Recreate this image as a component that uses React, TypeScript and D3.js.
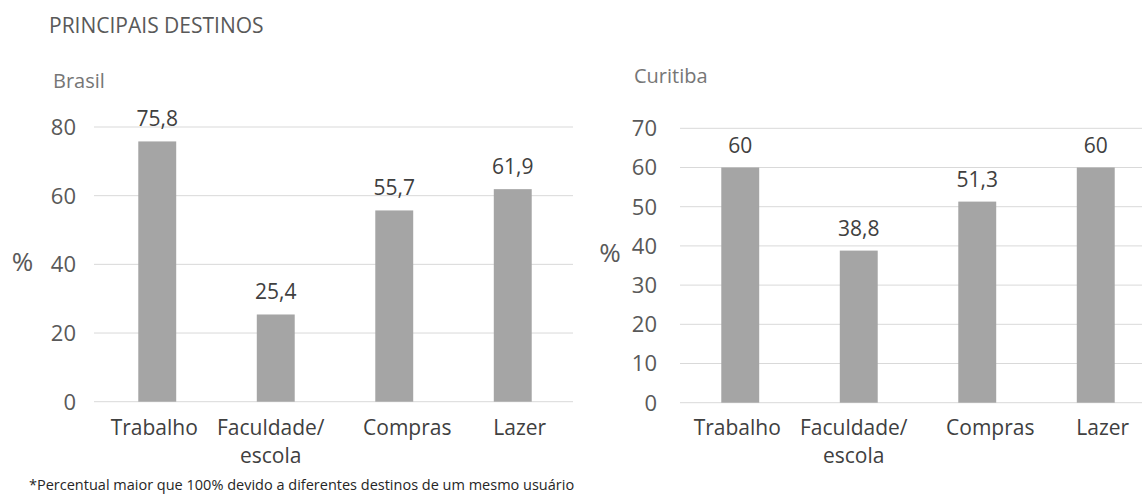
import React, { useEffect, useRef } from 'react'
import * as d3 from 'd3'

const categories = ['Trabalho', 'Faculdade/\nescola', 'Compras', 'Lazer']
const brasilValues = [75.8, 25.4, 55.7, 61.9]
const curitibaValues = [60, 38.8, 51.3, 60]
const brasilTicks = [0, 20, 40, 60, 80]
const curitibaTicks = [0, 10, 20, 30, 40, 50, 60, 70]

// category labels are not quite centred under the bars in the original
const labelNudge = [-3, -5, 13, 7]

const FONT = '"Open Sans", "Noto Sans", sans-serif'

interface IPanel {
  name: string
  values: number[]
  ticks: number[]
  max: number
  left: number
  right: number
  gridStart: number
  gridEnd: number
  top: number
  bottom: number
  tickX: number
  pctX: number
  pctY: number
  nameX: number
  nameY: number
}

const panels: IPanel[] = [
  {
    name: 'Brasil', values: brasilValues, ticks: brasilTicks, max: 80,
    left: 98, right: 572, gridStart: 94, gridEnd: 573, top: 127, bottom: 401.7,
    tickX: 76, pctX: 22.5, pctY: 262, nameX: 53, nameY: 88,
  },
  {
    name: 'Curitiba', values: curitibaValues, ticks: curitibaTicks, max: 70,
    left: 681, right: 1155, gridStart: 680, gridEnd: 1155, top: 128.3, bottom: 402.7,
    tickX: 657, pctX: 610, pctY: 253, nameX: 634, nameY: 83,
  },
]

const fmt = (v: number) => String(v).replace('.', ',')

const App = () => {
  const ref = useRef<SVGSVGElement>(null)

  useEffect(() => {
    const svg = d3.select(ref.current)
    svg.selectAll('*').remove()

    svg.append('text')
      .attr('x', 49).attr('y', 33)
      .attr('font-size', 21).attr('fill', '#595959')
      .text('PRINCIPAIS DESTINOS')

    panels.forEach((p) => {
      const x = d3.scaleBand().domain(categories).range([p.left, p.right])
        .paddingInner(0.68).paddingOuter(0.34)
      const y = d3.scaleLinear().domain([0, p.max]).range([p.bottom, p.top])
      const g = svg.append('g')

      g.append('text')
        .attr('x', p.nameX).attr('y', p.nameY)
        .attr('font-size', 20).attr('fill', '#767676')
        .text(p.name)

      g.append('g').selectAll('line').data(p.ticks).enter().append('line')
        .attr('x1', p.gridStart).attr('x2', p.gridEnd)
        .attr('y1', (d) => y(d)).attr('y2', (d) => y(d))
        .attr('stroke', '#d9d9d9').attr('stroke-width', 1)

      g.append('g').selectAll('text').data(p.ticks).enter().append('text')
        .attr('x', p.tickX).attr('y', (d) => y(d))
        .attr('dy', '0.36em').attr('text-anchor', 'end')
        .attr('font-size', 22).attr('fill', '#595959')
        .text((d) => d)

      g.append('text')
        .attr('x', p.pctX).attr('y', p.pctY)
        .attr('dy', '0.36em').attr('text-anchor', 'middle')
        .attr('font-size', 26).attr('fill', '#595959')
        .text('%')

      g.append('g').selectAll('rect').data(p.values).enter().append('rect')
        .attr('x', (_, i) => x(categories[i]) as number)
        .attr('width', x.bandwidth())
        .attr('y', (d) => y(d))
        .attr('height', (d) => y(0) - y(d))
        .attr('fill', '#a5a5a5')

      g.append('g').selectAll('text').data(p.values).enter().append('text')
        .attr('x', (_, i) => (x(categories[i]) as number) + x.bandwidth() / 2)
        .attr('y', (d) => y(d) - 15)
        .attr('text-anchor', 'middle')
        .attr('font-size', 21).attr('fill', '#404040')
        .text((d) => fmt(d))

      const cat = g.append('g').selectAll('text').data(categories).enter().append('text')
        .attr('text-anchor', 'middle')
        .attr('font-size', 21).attr('fill', '#404040')
      cat.each(function (d, i) {
        const cx = (x(d) as number) + x.bandwidth() / 2 + labelNudge[i]
        d3.select(this).selectAll('tspan').data(d.split('\n')).enter().append('tspan')
          .attr('x', cx).attr('y', (_, j) => 435 + j * 28)
          .text((s) => s)
      })
    })

    svg.append('text')
      .attr('x', 29).attr('y', 490)
      .attr('font-size', 14.5).attr('fill', '#262626')
      .text('*Percentual maior que 100% devido a diferentes destinos de um mesmo usuário')
  })

  return (
    <svg
      ref={ref}
      width={1142}
      height={495}
      style={{ position: 'absolute', left: 0, top: 0, background: '#fff', fontFamily: FONT }}
    />
  )
}

export default App
